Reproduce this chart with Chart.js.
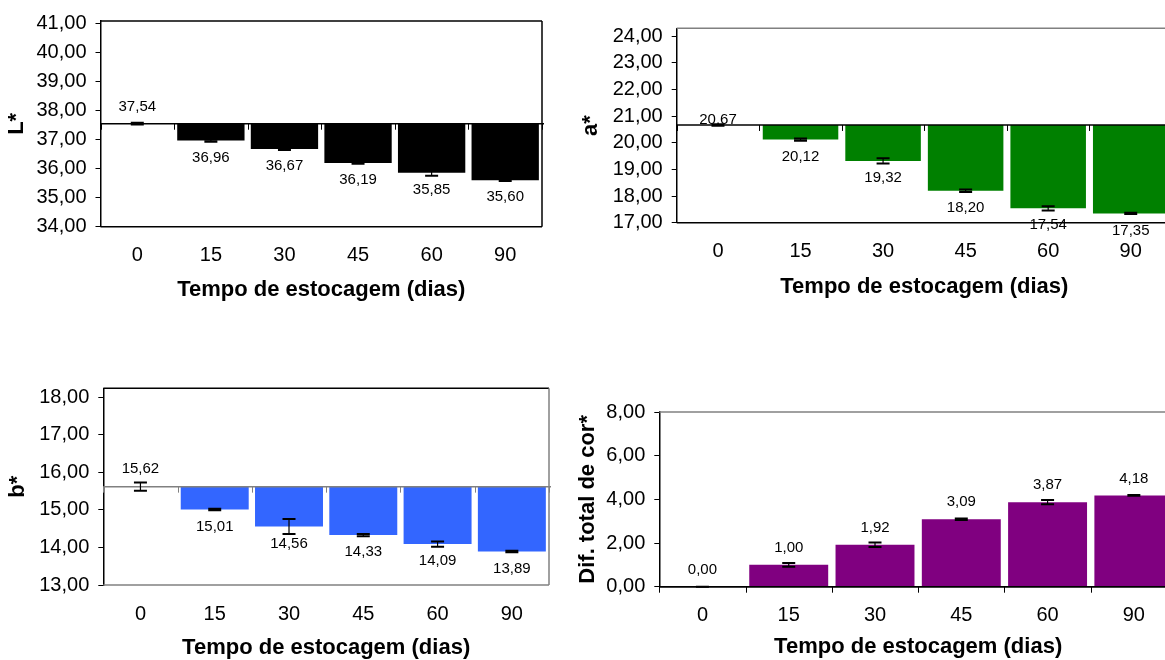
<!DOCTYPE html>
<html>
<head>
<meta charset="utf-8">
<script src="https://cdn.jsdelivr.net/npm/chart.js@4.4.0/dist/chart.umd.min.js"></script>
<style>
  html, body { margin: 0; padding: 0; background: #fff; overflow: hidden; }
  body { width: 1165px; height: 660px; position: relative; }
  .panel { position: absolute; }
</style>
</head>
<body>
<div class="panel" style="left:0;top:0;width:570px;height:320px"><canvas id="chartL"></canvas></div>
<div class="panel" style="left:570px;top:0;width:610px;height:320px"><canvas id="chartA"></canvas></div>
<div class="panel" style="left:0;top:330px;width:570px;height:330px"><canvas id="chartB"></canvas></div>
<div class="panel" style="left:570px;top:330px;width:610px;height:330px"><canvas id="chartDE"></canvas></div>
<script>
// Storage time categories
const days = ['0', '15', '30', '45', '60', '90'];

// L* (lightness)
const lValues = [37.54, 36.96, 36.67, 36.19, 35.85, 35.60];
const lErrors = [0.03, 0.04, 0.03, 0.03, 0.10, 0.03];
const lTicks = [34, 35, 36, 37, 38, 39, 40, 41];

// a*
const aValues = [20.67, 20.12, 19.32, 18.20, 17.54, 17.35];
const aErrors = [0.03, 0.04, 0.10, 0.05, 0.08, 0.02];
const aTicks = [17, 18, 19, 20, 21, 22, 23, 24];

// b*
const bValues = [15.62, 15.01, 14.56, 14.33, 14.09, 13.89];
const bErrors = [0.11, 0.02, 0.20, 0.03, 0.07, 0.02];
const bTicks = [13, 14, 15, 16, 17, 18];

// Total colour difference
const deValues = [0.00, 1.00, 1.92, 3.09, 3.87, 4.18];
const deErrors = [0.00, 0.09, 0.10, 0.03, 0.10, 0.02];
const deTicks = [0, 2, 4, 6, 8];

const xTitle = 'Tempo de estocagem (dias)';
const fontFamily = '"Liberation Sans", Arial, sans-serif';

function fmt(v) {
    return v.toFixed(2).replace('.', ',');
}

// baseline, frame, error bars, value labels and axis titles
const panelDecor = {
    id: 'panelDecor',
    afterDatasetsDraw(chart, args, opts) {
        const ctx = chart.ctx;
        const area = chart.chartArea;
        const x = chart.scales.x;
        const y = chart.scales.y;
        const meta = chart.getDatasetMeta(0);
        const baseY = y.getPixelForValue(opts.base);
        ctx.save();

        // category axis line crossing at the base value
        ctx.strokeStyle = opts.baseColor;
        ctx.lineWidth = 1.5;
        ctx.beginPath();
        ctx.moveTo(area.left, baseY);
        ctx.lineTo(area.right + 2, baseY);
        ctx.stroke();

        // tick marks between categories
        ctx.lineWidth = 1;
        const step = x.width / opts.values.length;
        for (let i = 0; i <= opts.values.length; i++) {
            const tx = Math.round(area.left + i * step) + 0.5;
            ctx.beginPath();
            ctx.moveTo(tx, baseY);
            ctx.lineTo(tx, baseY + 6);
            ctx.stroke();
        }

        // frame
        ctx.lineWidth = 1.5;
        if (opts.frame.top) {
            ctx.strokeStyle = opts.frame.top;
            ctx.beginPath();
            ctx.moveTo(area.left, area.top);
            ctx.lineTo(area.right, area.top);
            ctx.stroke();
        }
        if (opts.frame.right) {
            ctx.strokeStyle = opts.frame.right;
            ctx.beginPath();
            ctx.moveTo(area.right, area.top);
            ctx.lineTo(area.right, area.bottom);
            ctx.stroke();
        }
        if (opts.frame.bottom) {
            ctx.strokeStyle = opts.frame.bottom;
            ctx.beginPath();
            ctx.moveTo(area.left, area.bottom);
            ctx.lineTo(area.right, area.bottom);
            ctx.stroke();
        }

        // error bars
        ctx.strokeStyle = '#000';
        opts.values.forEach((v, i) => {
            const cx = meta.data[i].x;
            const yTop = y.getPixelForValue(v + opts.errors[i]);
            const yBot = y.getPixelForValue(v - opts.errors[i]);
            ctx.lineWidth = 1.2;
            ctx.beginPath();
            ctx.moveTo(cx, yTop);
            ctx.lineTo(cx, yBot);
            ctx.stroke();
            ctx.lineWidth = 2;
            ctx.beginPath();
            ctx.moveTo(cx - 6.5, yTop);
            ctx.lineTo(cx + 6.5, yTop);
            ctx.moveTo(cx - 6.5, yBot);
            ctx.lineTo(cx + 6.5, yBot);
            ctx.stroke();
        });

        // value labels
        ctx.fillStyle = '#000';
        ctx.font = '15px ' + fontFamily;
        ctx.textAlign = 'center';
        ctx.textBaseline = 'middle';
        opts.values.forEach((v, i) => {
            const py = y.getPixelForValue(v);
            const ly = v >= opts.base ? py - opts.aboveGap : py + 17;
            ctx.fillText(fmt(v), meta.data[i].x, ly);
        });

        // axis titles
        ctx.font = 'bold 22px ' + fontFamily;
        ctx.fillText(xTitle, (area.left + area.right) / 2, area.bottom + opts.xTitleGap);
        ctx.translate(area.left - opts.yTitleGap, (area.top + area.bottom) / 2);
        ctx.rotate(-Math.PI / 2);
        ctx.fillText(opts.yTitle, 0, 0);
        ctx.restore();
    }
};

function makePanel(id, cfg) {
    const ctx = document.getElementById(id).getContext('2d');
    return new Chart(ctx, {
        type: 'bar',
        data: {
            labels: days,
            datasets: [{
                data: cfg.values.map(v => [cfg.base, v]),
                backgroundColor: cfg.color,
                borderWidth: 0,
                categoryPercentage: 1.0,
                barPercentage: 0.915
            }]
        },
        options: {
            responsive: true,
            maintainAspectRatio: false,
            animation: false,
            layout: { padding: { left: 0, top: cfg.padTop, right: cfg.padRight, bottom: 0 } },
            plugins: {
                legend: { display: false },
                tooltip: { enabled: false },
                panelDecor: cfg
            },
            scales: {
                x: {
                    grid: { display: false, drawTicks: false },
                    border: { display: false },
                    ticks: { color: '#000', padding: 17, font: { size: 20, family: fontFamily } },
                    afterFit: s => { s.height = cfg.xHeight; }
                },
                y: {
                    min: cfg.min,
                    max: cfg.max,
                    afterBuildTicks: s => { s.ticks = cfg.ticks.map(v => ({ value: v })); },
                    afterFit: s => { s.width = cfg.yWidth; },
                    grid: { drawOnChartArea: false, drawTicks: true, tickLength: 5, color: '#000' },
                    border: { display: true, color: '#000', width: 1.5 },
                    ticks: {
                        color: '#000',
                        padding: 9,
                        font: { size: 20, family: fontFamily },
                        callback: v => fmt(v)
                    }
                }
            }
        },
        plugins: [panelDecor]
    });
}

makePanel('chartL', {
    values: lValues, errors: lErrors, ticks: lTicks, base: 37.54,
    min: 34, max: 41.07, color: '#000000', baseColor: '#000',
    frame: { top: '#000', right: '#000', bottom: '#000' },
    yTitle: 'L*', yWidth: 100.5, padTop: 20.7, padRight: 28, xHeight: 93.3,
    xTitleGap: 63, yTitleGap: 84, aboveGap: 17
});

makePanel('chartA', {
    values: aValues, errors: aErrors, ticks: aTicks, base: 20.67,
    min: 17, max: 24.3, color: '#008000', baseColor: '#000',
    frame: { top: '#808080', right: null, bottom: '#000' },
    yTitle: 'a*', yWidth: 106.7, padTop: 28.3, padRight: 8, xHeight: 97.3,
    xTitleGap: 64, yTitleGap: 86, aboveGap: 5
});

makePanel('chartB', {
    values: bValues, errors: bErrors, ticks: bTicks, base: 15.62,
    min: 13, max: 18.24, color: '#3366FF', baseColor: '#808080',
    frame: { top: '#000', right: '#808080', bottom: '#808080' },
    yTitle: 'b*', yWidth: 103.3, padTop: 58.3, padRight: 21, xHeight: 75,
    xTitleGap: 63, yTitleGap: 85, aboveGap: 18
});

makePanel('chartDE', {
    values: deValues, errors: deErrors, ticks: deTicks, base: 0,
    min: 0, max: 8, color: '#800080', baseColor: '#000',
    frame: { top: '#808080', right: null, bottom: '#000' },
    yTitle: 'Dif. total de cor*', yWidth: 89.3, padTop: 82, padRight: 3, xHeight: 73.3,
    xTitleGap: 60, yTitleGap: 71, aboveGap: 17
});
</script>
</body>
</html>
